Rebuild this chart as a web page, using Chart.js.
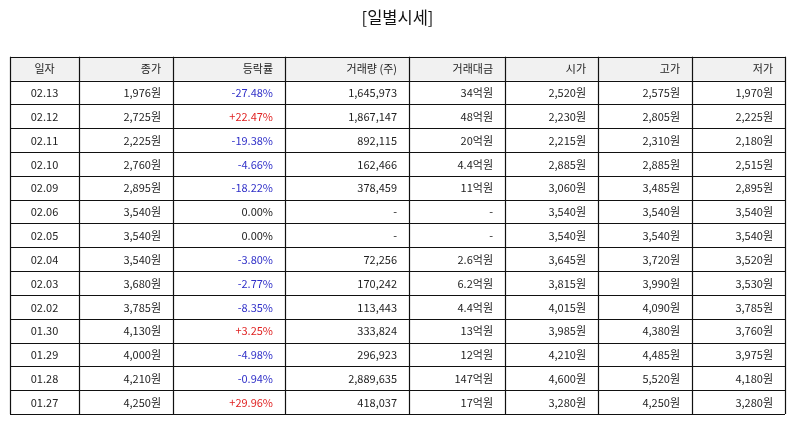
<!DOCTYPE html>
<html>
<head>
<meta charset="utf-8">
<script src="https://cdn.jsdelivr.net/npm/chart.js@4"></script>
<style>
html,body{margin:0;padding:0;background:#fff;}
#wrap{width:795px;height:425px;}
</style>
</head>
<body>
<div id="wrap"><canvas id="c"></canvas></div>
<script>
// ---- data ----
const headers = ['일자','종가','등락률','거래량 (주)','거래대금','시가','고가','저가'];
const dates   = ['02.13','02.12','02.11','02.10','02.09','02.06','02.05','02.04','02.03','02.02','01.30','01.29','01.28','01.27'];
const closes  = [1976,2725,2225,2760,2895,3540,3540,3540,3680,3785,4130,4000,4210,4250];
const changes = [-27.48,22.47,-19.38,-4.66,-18.22,0.00,0.00,-3.80,-2.77,-8.35,3.25,-4.98,-0.94,29.96];
const volumes = [1645973,1867147,892115,162466,378459,null,null,72256,170242,113443,333824,296923,2889635,418037];
const amounts = [34,48,20,4.4,11,null,null,2.6,6.2,4.4,13,12,147,17]; // 억원
const opens   = [2520,2230,2215,2885,3060,3540,3540,3645,3815,4015,3985,4210,4600,3280];
const highs   = [2575,2805,2310,2885,3485,3540,3540,3720,3990,4090,4380,4485,5520,4250];
const lows    = [1970,2225,2180,2515,2895,3540,3540,3520,3530,3785,3760,3975,4180,3280];

// ---- layout (not data) ----
const colWidths = [69,94,112,124,96,93,94,93];
const FONT = '"Noto Sans CJK KR", "Noto Sans", sans-serif';

const fmt = n => n.toLocaleString('en-US');
function cellText(r, c) {
  switch (c) {
    case 0: return dates[r];
    case 1: return fmt(closes[r]) + '원';
    case 2: { const v = changes[r]; return (v > 0 ? '+' : '') + v.toFixed(2) + '%'; }
    case 3: return volumes[r] == null ? '-' : fmt(volumes[r]);
    case 4: return amounts[r] == null ? '-' : amounts[r] + '억원';
    case 5: return fmt(opens[r]) + '원';
    case 6: return fmt(highs[r]) + '원';
    case 7: return fmt(lows[r]) + '원';
  }
}
function cellColor(r, c) {
  if (c === 2) {
    if (changes[r] > 0) return '#e02424';
    if (changes[r] < 0) return '#3030c8';
  }
  return '#222';
}

const edges = [0];
colWidths.forEach(w => edges.push(edges[edges.length-1] + w));
const totalW = edges[edges.length-1];
const nRows = dates.length + 1;

const tablePlugin = {
  id: 'tablePlugin',
  afterDatasetsDraw(chart) {
    const ctx = chart.ctx;
    const xs = chart.scales.x, ys = chart.scales.y;
    const px = v => xs.getPixelForValue(v);
    const py = v => ys.getPixelForValue(v);
    ctx.save();
    // header background
    ctx.fillStyle = '#f1f1f1';
    ctx.fillRect(px(0), py(0), px(totalW) - px(0), py(1) - py(0));
    // text
    ctx.textBaseline = 'middle';
    ctx.font = '11px ' + FONT;
    for (let r = 0; r < nRows; r++) {
      const yc = (py(r) + py(r+1)) / 2 + 0.5;
      for (let c = 0; c < headers.length; c++) {
        const x0 = px(edges[c]), x1 = px(edges[c+1]);
        const txt = r === 0 ? headers[c] : cellText(r-1, c);
        ctx.fillStyle = r === 0 ? '#222' : cellColor(r-1, c);
        if (c === 0) {
          ctx.textAlign = 'center';
          ctx.fillText(txt, (x0 + x1) / 2, yc);
        } else {
          ctx.textAlign = 'right';
          ctx.fillText(txt, x1 - 12, yc);
        }
      }
    }
    // grid lines
    ctx.strokeStyle = '#111';
    ctx.lineWidth = 1.2;
    ctx.beginPath();
    for (let r = 0; r <= nRows; r++) {
      const y = Math.round(py(r)) + 0.5;
      ctx.moveTo(px(0), y); ctx.lineTo(px(totalW), y);
    }
    edges.forEach(e => {
      const x = Math.round(px(e)) + 0.5;
      ctx.moveTo(x, py(0)); ctx.lineTo(x, py(nRows));
    });
    ctx.stroke();
    ctx.restore();
  }
};

new Chart(document.getElementById('c'), {
  type: 'scatter',
  data: { datasets: [{ data: [], pointRadius: 0 }] },
  options: {
    responsive: true,
    maintainAspectRatio: false,
    animation: false,
    layout: { padding: { left: 10, right: 10, top: 0, bottom: 11 } },
    plugins: {
      legend: { display: false },
      tooltip: { enabled: false },
      title: {
        display: true,
        text: '[일별시세]',
        color: '#111',
        font: { family: FONT, size: 16.5, weight: 'normal' },
        padding: { top: 8, bottom: 29 }
      }
    },
    scales: {
      x: { type: 'linear', display: false, min: 0, max: totalW },
      y: { type: 'linear', display: false, min: 0, max: nRows, reverse: true }
    }
  },
  plugins: [tablePlugin]
});
</script>
</body>
</html>
